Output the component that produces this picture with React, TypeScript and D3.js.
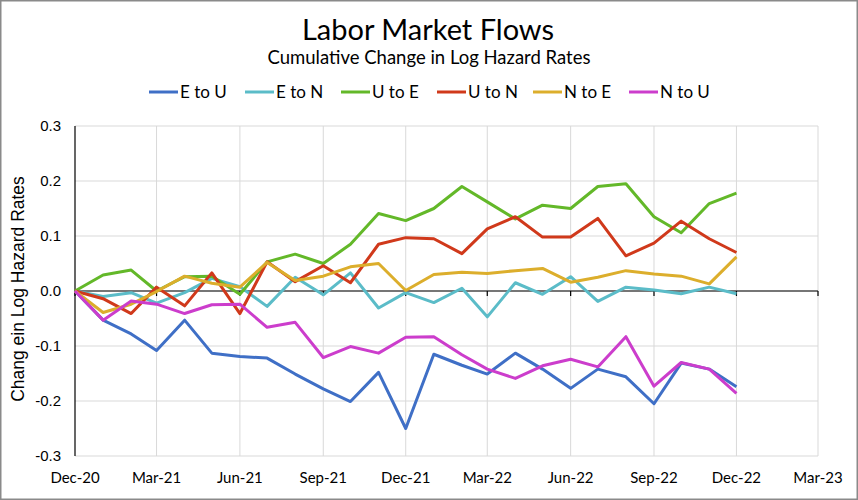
import React from "react";
import * as d3 from "d3";

const seriesNames = ["E to U", "E to N", "U to E", "U to N", "N to E", "N to U"];
const seriesColors = ["#3f6fc6", "#5bbcc8", "#63b829", "#d0391b", "#dcae2c", "#cc3dcc"];

const eToU = [0, -0.053, -0.078, -0.108, -0.053, -0.113, -0.119, -0.122, -0.151, -0.178, -0.201, -0.148, -0.25, -0.115, -0.135, -0.151, -0.113, -0.142, -0.177, -0.142, -0.156, -0.205, -0.131, -0.142, -0.174];
const eToN = [0, -0.01, -0.003, -0.022, -0.003, 0.023, 0.008, -0.028, 0.025, -0.007, 0.033, -0.031, -0.003, -0.021, 0.005, -0.047, 0.015, -0.006, 0.026, -0.019, 0.007, 0.002, -0.005, 0.007, -0.005];
const uToE = [0, 0.029, 0.038, 0.0, 0.026, 0.027, -0.006, 0.053, 0.067, 0.05, 0.085, 0.141, 0.128, 0.15, 0.19, 0.162, 0.131, 0.156, 0.15, 0.19, 0.195, 0.135, 0.106, 0.159, 0.178];
const uToN = [0, -0.014, -0.041, 0.007, -0.027, 0.033, -0.041, 0.053, 0.017, 0.046, 0.015, 0.085, 0.097, 0.095, 0.068, 0.113, 0.135, 0.098, 0.098, 0.132, 0.064, 0.087, 0.127, 0.095, 0.07];
const nToE = [0, -0.039, -0.024, -0.001, 0.027, 0.014, 0.007, 0.052, 0.019, 0.027, 0.044, 0.05, 0.001, 0.03, 0.034, 0.032, 0.037, 0.041, 0.016, 0.025, 0.037, 0.031, 0.027, 0.013, 0.062];
const nToU = [0, -0.053, -0.018, -0.024, -0.041, -0.025, -0.024, -0.066, -0.057, -0.121, -0.101, -0.113, -0.084, -0.083, -0.116, -0.142, -0.159, -0.136, -0.124, -0.138, -0.083, -0.173, -0.13, -0.142, -0.186];

const seriesValues = [eToU, eToN, uToE, uToN, nToE, nToU];

// monthly dates Dec-2020 .. Dec-2022
const months = d3.range(25).map((i) => new Date(2020, 11 + i, 1));
const xTickDates = d3.range(10).map((i) => new Date(2020, 11 + i * 3, 1));
const yTicks = [-0.3, -0.2, -0.1, 0, 0.1, 0.2, 0.3];

const W = 858;
const H = 500;
const left = 75;
const right = 818;
const top = 126;
const bottom = 456;

export default function App() {
  const x = d3.scaleTime().domain([new Date(2020, 11, 1), new Date(2023, 2, 1)]).range([left, right]);
  const y = d3.scaleLinear().domain([-0.3, 0.3]).range([bottom, top]);
  const fmtX = d3.timeFormat("%b-%y");
  const line = d3
    .line<number>()
    .x((_, i) => x(months[i]))
    .y((d) => y(d));

  return (
    <div style={{ position: "fixed", left: 0, top: 0 }}>
      <svg width={W} height={H} style={{ display: "block", background: "#fff" }}>
        <rect x={0.75} y={0.75} width={W - 1.5} height={H - 1.5} fill="#fff" stroke="#8a8a8a" strokeWidth={1.5} />
        {/* title */}
        <text x={428} y={40} textAnchor="middle" fontFamily="Lato" fontSize={29} fill="#000">
          Labor Market Flows
        </text>
        <text x={429} y={64} textAnchor="middle" fontFamily="Lato" fontSize={18.5} fill="#000">
          Cumulative Change in Log Hazard Rates
        </text>
        {/* legend */}
        {seriesNames.map((n, i) => {
          const lx = 149 + i * 96;
          return (
            <g key={n}>
              <line x1={lx} x2={lx + 29} y1={92} y2={92} stroke={seriesColors[i]} strokeWidth={3} />
              <text x={lx + 31} y={98} fontFamily="Lato" fontSize={17} fill="#000">
                {n}
              </text>
            </g>
          );
        })}
        {/* grid */}
        {yTicks.map((t) => (
          <line key={"gy" + t} x1={left} x2={right} y1={y(t)} y2={y(t)} stroke="#d9d9d9" strokeWidth={1} />
        ))}
        {xTickDates.slice(1).map((d, i) => (
          <line key={"gx" + i} x1={x(d)} x2={x(d)} y1={top} y2={bottom} stroke="#d9d9d9" strokeWidth={1} />
        ))}
        {/* axes */}
        <line x1={left} x2={left} y1={top} y2={bottom} stroke="#000" strokeWidth={1.2} />
        <line x1={left} x2={right} y1={y(0)} y2={y(0)} stroke="#000" strokeWidth={1.2} />
        {xTickDates.map((d, i) => (
          <line key={"tk" + i} x1={x(d)} x2={x(d)} y1={y(0)} y2={y(0) + 5} stroke="#000" strokeWidth={1.2} />
        ))}
        {/* y labels */}
        {yTicks.map((t) => (
          <text key={"yl" + t} x={61} y={y(t) + 5} textAnchor="end" fontFamily="Liberation Sans" fontSize={15} fill="#000">
            {d3.format(".1f")(t).replace("−", "-")}
          </text>
        ))}
        {/* x labels */}
        {xTickDates.map((d, i) => (
          <text key={"xl" + i} x={x(d)} y={483} textAnchor="middle" fontFamily="Lato" fontSize={15} fill="#000">
            {fmtX(d)}
          </text>
        ))}
        <text
          transform={`translate(24,289) rotate(-90)`}
          textAnchor="middle"
          fontFamily="Liberation Sans"
          fontSize={17.5}
          fill="#000"
        >
          Chang ein Log Hazard Rates
        </text>
        {/* series */}
        {seriesValues.map((vals, i) => (
          <path
            key={seriesNames[i]}
            d={line(vals) || ""}
            fill="none"
            stroke={seriesColors[i]}
            strokeWidth={3}
            strokeLinejoin="round"
          />
        ))}
      </svg>
    </div>
  );
}
